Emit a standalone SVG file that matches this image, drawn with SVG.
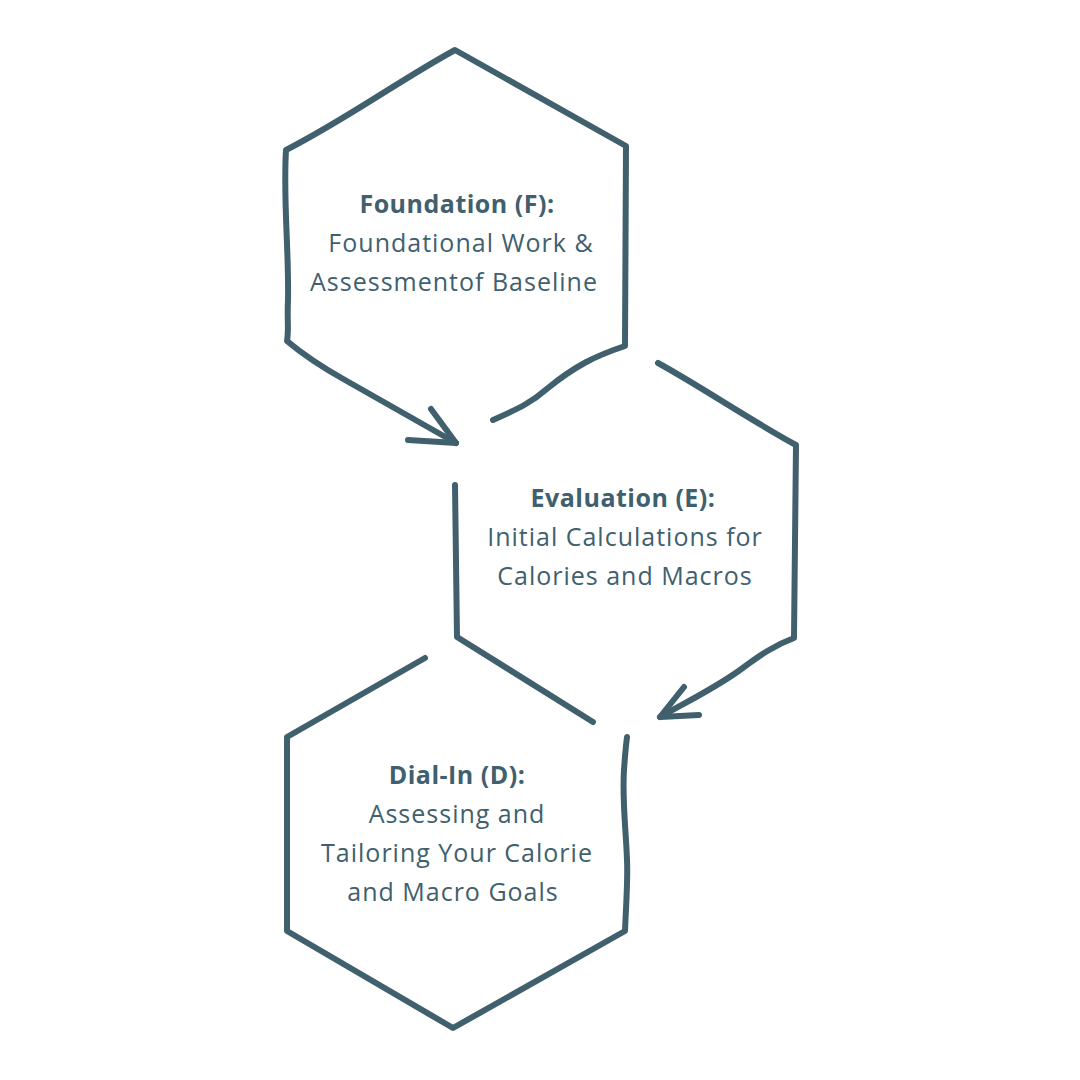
<svg xmlns="http://www.w3.org/2000/svg" width="1080" height="1080" viewBox="0 0 1080 1080">
<style>
.s{fill:none;stroke:#40606E;stroke-width:6;stroke-linecap:round;stroke-linejoin:round}
.t{font-family:"Open Sans","Liberation Sans",sans-serif;font-size:25px;fill:#40606E;text-anchor:middle;letter-spacing:1px}
.b{font-weight:700;letter-spacing:0.5px}
</style>
<rect width="1080" height="1080" fill="#ffffff"/>
<g id="connectors">
<path class="s" d="M431 409 L456 443 M408 440 L456 443"/>
<path class="s" d="M684 687 L660 717 L699 715"/>
</g>
<g id="node-f">
<path class="s" d="M493 420 C520 408 532 402 548 388 C575 366 595 356 625 346 L626 146 L455 50 C400 80 345 120 286 150 C283 200 289 250 288 300 C287 320 289 330 287 341 C300 352 320 366 345 380 L456 443"/>
<text class="t b" x="457" y="213">Foundation (F):</text>
<text class="t" x="461" y="252">Foundational Work &amp;</text>
<text class="t" x="454" y="291">Assessmentof Baseline</text>
</g>
<g id="node-e">
<path class="s" d="M658 363 C700 386 750 420 796 445 L794 638 C775 645 760 655 740 670 C715 688 690 700 660 717"/>
<path class="s" d="M455 485 L457 637 L593 722"/>
<text class="t b" x="623" y="507">Evaluation (E):</text>
<text class="t" x="625" y="546">Initial Calculations for</text>
<text class="t" x="625" y="585">Calories and Macros</text>
</g>
<g id="node-d">
<path class="s" d="M425 658 L287 737 L287 931 L453 1028 L625 931 C626 905 628 880 627 860 C626 830 622 800 624 770 C625 755 626 745 627 737"/>
<text class="t b" x="457" y="784">Dial-In (D):</text>
<text class="t" x="457" y="823">Assessing and</text>
<text class="t" x="457" y="862">Tailoring Your Calorie</text>
<text class="t" x="453" y="901">and Macro Goals</text>
</g>
</svg>
